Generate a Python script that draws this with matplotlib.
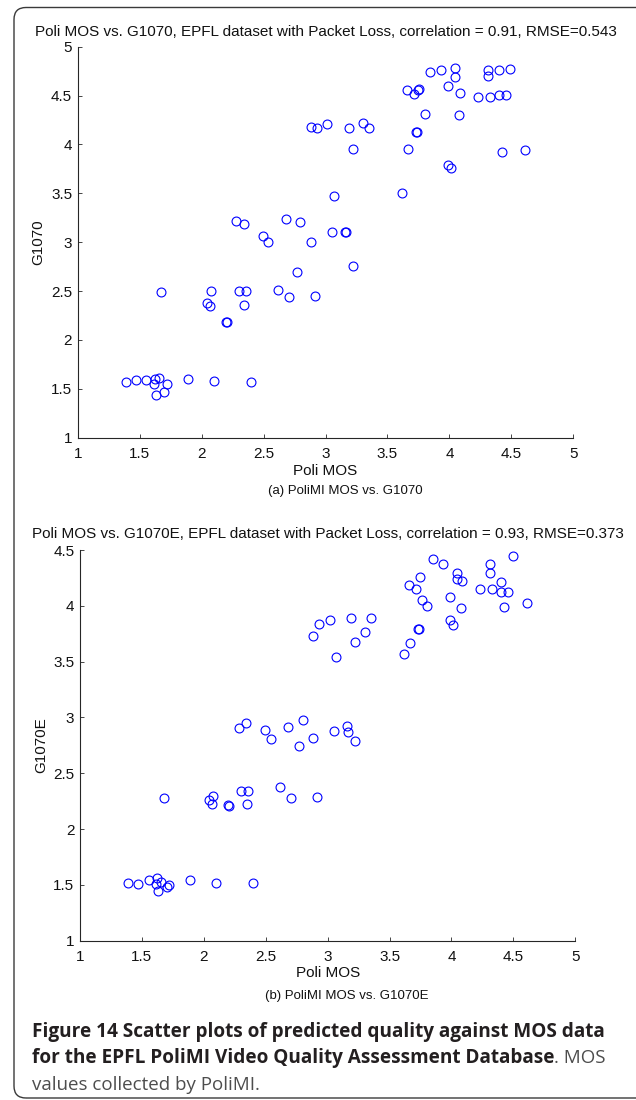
import numpy as np
import matplotlib
matplotlib.use("Agg")
import matplotlib.pyplot as plt
from matplotlib.patches import FancyBboxPatch
from matplotlib.transforms import IdentityTransform

# Poli MOS (shared x) and the two predicted-quality scores
poli_mos = [
    1.39, 1.47, 1.555, 1.62, 1.655, 1.615, 1.63, 1.70, 1.72, 1.89, 2.10, 2.395,
    1.675, 2.043, 2.068, 2.077, 2.195, 2.203, 2.30, 2.358, 2.346, 2.615, 2.707, 2.917,
    2.281, 2.339, 2.493, 2.539, 2.681, 2.798, 2.768, 2.882, 3.053, 3.157, 3.164, 3.221,
    2.882, 2.928, 3.016, 3.187, 3.301, 3.351, 3.22, 3.667, 3.731, 3.736, 3.066, 3.616,
    3.987, 4.013, 4.426, 4.613, 3.806, 4.075,
    3.847, 3.93, 4.042, 4.046, 4.083, 4.312, 4.312, 4.402, 4.493, 3.656, 3.714, 3.745,
    3.758, 3.985, 4.229, 4.329, 4.40, 4.458,
]
g1070 = [
    1.573, 1.593, 1.593, 1.596, 1.606, 1.545, 1.437, 1.471, 1.545, 1.599, 1.576, 1.573,
    2.49, 2.378, 2.35, 2.504, 2.18, 2.18, 2.497, 2.504, 2.357, 2.514, 2.442, 2.449,
    3.214, 3.183, 3.067, 3.0, 3.234, 3.207, 2.695, 3.002, 3.104, 3.104, 3.10, 2.757,
    4.18, 4.165, 4.206, 4.171, 4.223, 4.171, 3.953, 3.95, 4.13, 4.13, 3.473, 3.503,
    3.793, 3.759, 3.92, 3.946, 4.308, 4.304,
    4.744, 4.765, 4.782, 4.693, 4.526, 4.765, 4.70, 4.758, 4.772, 4.554, 4.516, 4.557,
    4.567, 4.598, 4.489, 4.482, 4.506, 4.503,
]
g1070e = [
    1.513, 1.507, 1.543, 1.558, 1.522, 1.504, 1.444, 1.483, 1.495, 1.543, 1.519, 1.516,
    2.275, 2.26, 2.221, 2.296, 2.212, 2.206, 2.338, 2.344, 2.227, 2.379, 2.281, 2.289,
    2.902, 2.953, 2.887, 2.806, 2.917, 2.974, 2.744, 2.813, 2.878, 2.923, 2.872, 2.791,
    3.729, 3.837, 3.876, 3.894, 3.768, 3.894, 3.673, 3.669, 3.792, 3.792, 3.538, 3.571,
    3.87, 3.825, 3.992, 4.022, 3.995, 3.983,
    4.416, 4.374, 4.294, 4.243, 4.222, 4.372, 4.297, 4.216, 4.446, 4.186, 4.153, 4.255,
    4.052, 4.082, 4.153, 4.148, 4.124, 4.124,
]

titles = [
    "Poli MOS vs. G1070, EPFL dataset with Packet Loss, correlation = 0.91, RMSE=0.543",
    "Poli MOS vs. G1070E, EPFL dataset with Packet Loss, correlation = 0.93, RMSE=0.373",
]
ylabels = ["G1070", "G1070E"]
subcaps = ["(a) PoliMI MOS vs. G1070", "(b) PoliMI MOS vs. G1070E"]
yticks = [np.arange(1, 5.01, 0.5), np.arange(1, 4.51, 0.5)]
xticks = np.arange(1, 5.01, 0.5)

caption_bold = ["Figure 14 Scatter plots of predicted quality against MOS data",
                "for the EPFL PoliMI Video Quality Assessment Database"]
caption_reg = [". MOS", "values collected by PoliMI."]

W, H = 636, 1100
plt.rcParams["font.family"] = ["Liberation Sans", "DejaVu Sans"]
fig = plt.figure(figsize=(W / 100, H / 100), dpi=100)

# axes boxes in pixels: left, top, right, bottom
boxes = [(77.7, 46.7, 573.3, 437.7), (80.0, 550.0, 575.3, 940.7)]
title_pads = [7.7, 9.0]
subcap_xy = [(345, 491), (347, 996.5)]

def tick_label(v):
    return f"{v:g}"

for i, ys in enumerate([g1070, g1070e]):
    l, t, r, b = boxes[i]
    ax = fig.add_axes([l / W, 1 - b / H, (r - l) / W, (b - t) / H])
    ax.plot(poli_mos, ys, "o", ls="none", ms=6.4, mfc="none", mec="#0000ff", mew=0.8)
    ax.set_xlim(1, 5)
    ax.set_ylim(1, yticks[i][-1])
    ax.set_xticks(xticks)
    ax.set_xticklabels([tick_label(v) for v in xticks])
    ax.set_yticks(yticks[i])
    ax.set_yticklabels([tick_label(v) for v in yticks[i]])
    for s in ("top", "right"):
        ax.spines[s].set_visible(False)
    for s in ("left", "bottom"):
        ax.spines[s].set_color("#262626")
        ax.spines[s].set_linewidth(0.8)
    ax.tick_params(direction="in", length=3.2, width=0.6, color="#262626",
                   labelsize=11, labelcolor="#111111")
    ax.tick_params(axis="x", pad=6.9)
    ax.tick_params(axis="y", pad=4)
    ax.set_title(titles[i], fontsize=11, pad=title_pads[i], color="#111111")
    ax.set_xlabel("Poli MOS", fontsize=11, color="#111111")
    ax.xaxis.set_label_coords(0.5, -0.066)
    ax.set_ylabel(ylabels[i], fontsize=11, color="#111111")
    ax.yaxis.set_label_coords(-0.065, 0.5)
    sx, sy = subcap_xy[i]
    fig.text(sx / W, 1 - sy / H, subcaps[i], fontsize=9.5, ha="center", va="center",
             color="#111111")

# rounded frame around the figure panel (right side runs off the image)
frame = FancyBboxPatch((14, 2), 640, 1090.5, boxstyle="round,pad=0,rounding_size=12",
                       transform=IdentityTransform(), fill=False, ec="#3a3a3a", lw=1.0)
fig.patches.append(frame)

# caption -- sized so the lines span about the same width as in the journal layout
cap_font = ["Open Sans", "DejaVu Sans"]
bold_col, reg_col = "#231f20", "#4d4d4d"
renderer = fig.canvas.get_renderer()
x0 = 31.7
baselines = [1036.7, 1063.3, 1090.0]

def text_width(text, weight, size):
    probe = fig.text(0, 0, text, family=cap_font, weight=weight, fontsize=size)
    w = probe.get_window_extent(renderer).width
    probe.remove()
    return w

base = 12.0
bold_w = text_width(caption_bold[0], "bold", base) + text_width(caption_bold[1], "bold", base)
bold_size = base * ((618.3 - x0) + (541.7 - x0)) / bold_w
reg_size = base * (258.3 - x0) / text_width(caption_reg[1], "normal", base)

fig.text(x0 / W, 1 - baselines[0] / H, caption_bold[0], family=cap_font, weight="bold",
         fontsize=bold_size, color=bold_col, va="baseline")
t2 = fig.text(x0 / W, 1 - baselines[1] / H, caption_bold[1], family=cap_font,
              weight="bold", fontsize=bold_size, color=bold_col, va="baseline")
bb = t2.get_window_extent(renderer)
fig.text(bb.x1 / W, 1 - baselines[1] / H, caption_reg[0], family=cap_font,
         fontsize=reg_size, color=reg_col, va="baseline")
fig.text(x0 / W, 1 - baselines[2] / H, caption_reg[1], family=cap_font,
         fontsize=reg_size, color=reg_col, va="baseline")

fig.savefig("out.png", dpi=100)
